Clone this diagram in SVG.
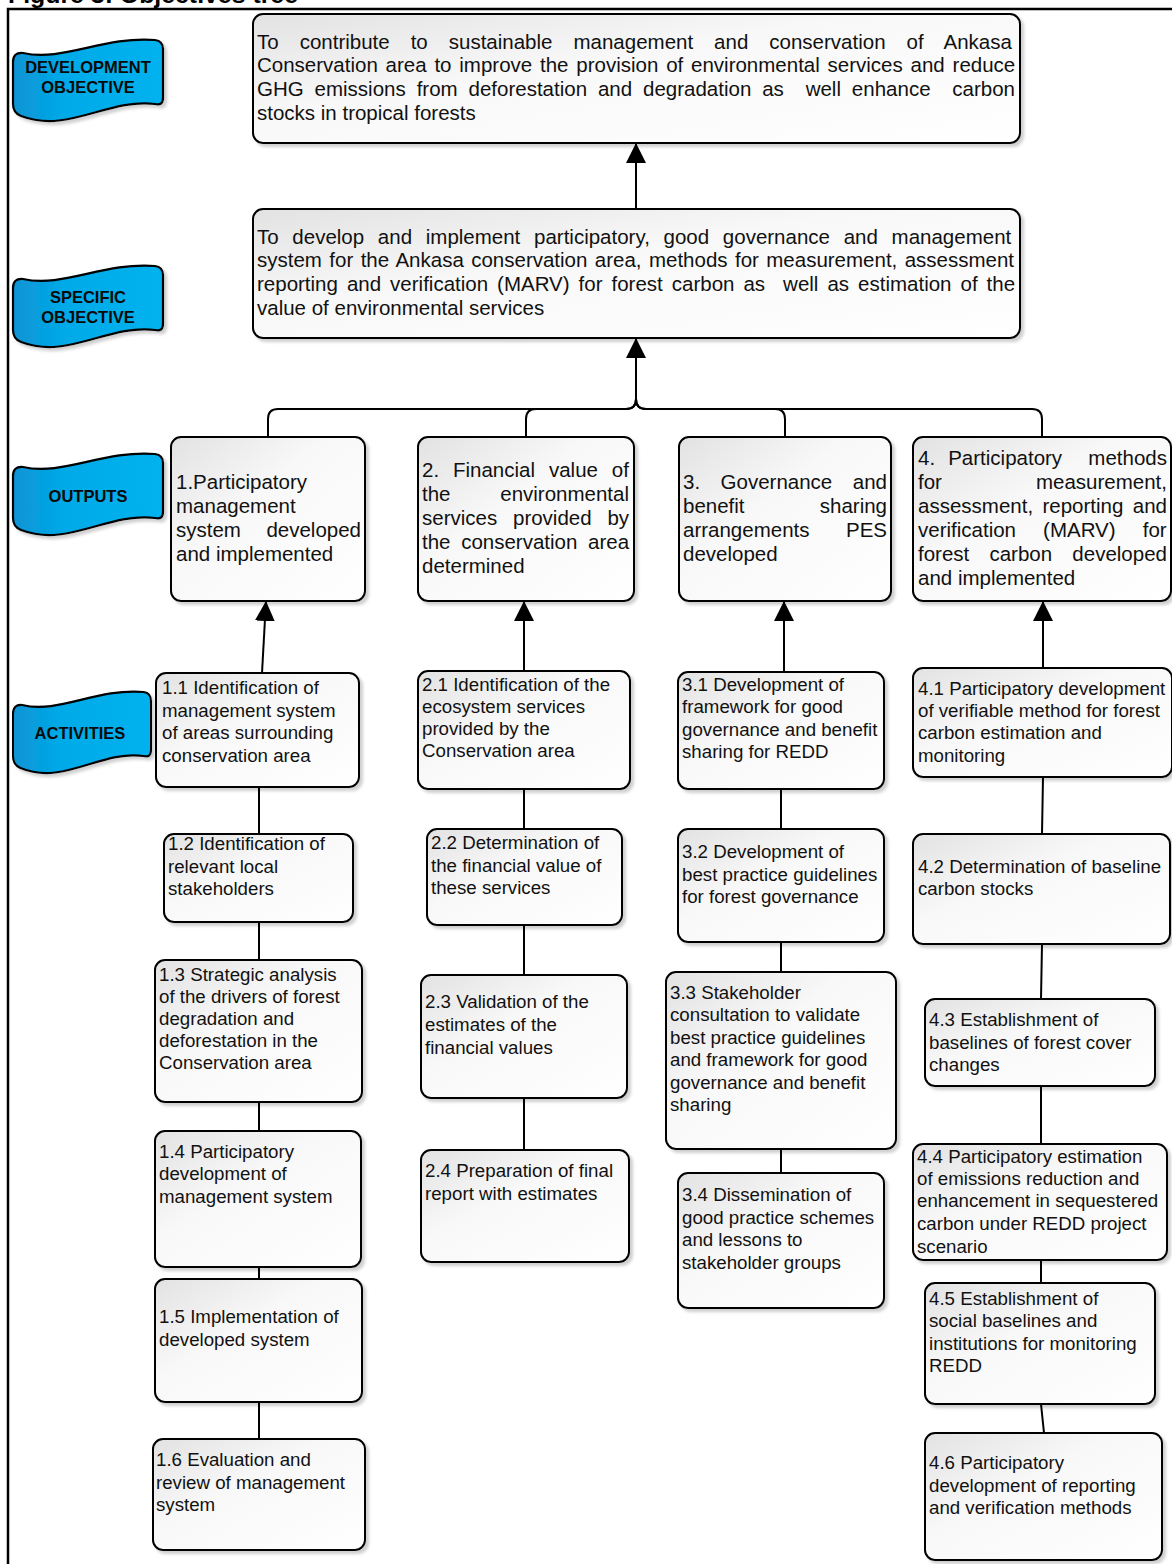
<svg xmlns="http://www.w3.org/2000/svg" width="1172" height="1564" viewBox="0 0 1172 1564">
<defs>
<style>
.t{font-family:"Liberation Sans",Arial,sans-serif;font-size:20.5px;fill:#111}
.a{font-family:"Liberation Sans",Arial,sans-serif;font-size:18.7px;fill:#111}
.e{text-anchor:end}
.lbl{font-family:"Liberation Sans",Arial,sans-serif;font-size:16.5px;font-weight:bold;fill:#0a0a0a;text-anchor:middle}
.box{fill:url(#bg);stroke:#000;stroke-width:2;filter:url(#sh)}
.ban{fill:url(#blue);stroke:#000;stroke-width:2.2;filter:url(#sh);stroke-linejoin:round}
.con{stroke:#000;stroke-width:2;fill:none}
.frame{stroke:#000;stroke-width:2.5;fill:none}
</style>
<linearGradient id="bg" x1="0" y1="0" x2="1" y2="1">
<stop offset="0" stop-color="#e2e2e2"/>
<stop offset="0.4" stop-color="#f8f8f8"/>
<stop offset="1" stop-color="#ffffff"/>
</linearGradient>
<linearGradient id="blue" x1="0" y1="0" x2="1" y2="0">
<stop offset="0" stop-color="#0a93d4"/>
<stop offset="0.35" stop-color="#03aae8"/>
<stop offset="1" stop-color="#00b2ef"/>
</linearGradient>
<filter id="sh" x="-10%" y="-10%" width="125%" height="125%">
<feDropShadow dx="3" dy="3" stdDeviation="1.5" flood-color="#888" flood-opacity="0.4"/>
</filter>
<marker id="ah" viewBox="0 0 20 20" markerWidth="20" markerHeight="20" refX="20" refY="10" orient="auto" markerUnits="userSpaceOnUse">
<path d="M0,0 L20,10 L0,20 Z" fill="#000"/>
</marker>
<path id="banner" d="M0,22 Q0,12 10,13 C50,22 90,-4 142,0 Q150,1 150,9 L150,58 Q150,66 142,64 C95,58 55,94 8,76 Q0,73 0,64 Z"/>
</defs>

<text x="8" y="3" font-family="Liberation Sans,Arial,sans-serif" font-size="24" font-weight="bold" textLength="290" lengthAdjust="spacingAndGlyphs">Figure 3: Objectives tree</text>
<path class="frame" d="M8,1564 V9 H1172"/>

<g id="label-development">
<use href="#banner" class="ban" transform="translate(13,40)"/>
<text class="lbl" x="88" y="73">DEVELOPMENT</text>
<text class="lbl" x="88" y="93">OBJECTIVE</text>
</g>
<g id="label-specific">
<use href="#banner" class="ban" transform="translate(13,266)"/>
<text class="lbl" x="88" y="303">SPECIFIC</text>
<text class="lbl" x="88" y="323">OBJECTIVE</text>
</g>
<g id="label-outputs">
<use href="#banner" class="ban" transform="translate(13,454)"/>
<text class="lbl" x="88" y="502">OUTPUTS</text>
</g>
<g id="label-activities">
<use href="#banner" class="ban" transform="translate(13,692) scale(0.92,1)"/>
<text class="lbl" x="80" y="739">ACTIVITIES</text>
</g>

<g id="dev-objective">
<rect class="box" x="253" y="14" width="767" height="129" rx="10"/>
<text class="t" x="257" y="48.5" style="word-spacing:15.3px">To contribute to sustainable management and conservation of Ankasa</text>
<text class="t" x="257" y="71.5" style="word-spacing:2.1px">Conservation area to improve the provision of environmental services and reduce</text>
<text class="t" x="257" y="95.5" xml:space="preserve" style="word-spacing:5.2px">GHG emissions from deforestation and degradation as  well enhance  carbon</text>
<text class="t" x="257" y="119.5">stocks in tropical forests</text>
</g>

<g id="spec-objective">
<rect class="box" x="253" y="209" width="767" height="129" rx="10"/>
<text class="t" x="257" y="243.5" style="word-spacing:8px">To develop and implement participatory, good governance and management</text>
<text class="t" x="257" y="266.5" style="word-spacing:1.7px">system for the Ankasa conservation area, methods for measurement, assessment</text>
<text class="t" x="257" y="290.5" xml:space="preserve" style="word-spacing:3.3px">reporting and verification (MARV) for forest carbon as  well as estimation of the</text>
<text class="t" x="257" y="314.5">value of environmental services</text>
</g>

<g id="output-1">
<rect class="box" x="171" y="437" width="194" height="164" rx="10"/>
<text class="t" x="176" y="488.5">1.Participatory</text>
<text class="t" x="176" y="512.5">management</text>
<text class="t" x="176" y="536.5">system</text>
<text class="t e" x="361" y="536.5">developed</text>
<text class="t" x="176" y="560.5">and implemented</text>
</g>
<g id="output-2">
<rect class="box" x="418" y="437" width="216" height="164" rx="10"/>
<text class="t" x="422" y="476.5" style="word-spacing:8.2px">2. Financial value of</text>
<text class="t" x="422" y="500.5">the</text>
<text class="t e" x="629" y="500.5">environmental</text>
<text class="t" x="422" y="524.5" style="word-spacing:10.1px">services provided by</text>
<text class="t" x="422" y="548.5" style="word-spacing:4.95px">the conservation area</text>
<text class="t" x="422" y="572.5">determined</text>
</g>
<g id="output-3">
<rect class="box" x="679" y="437" width="212" height="164" rx="10"/>
<text class="t" x="683" y="488.5" style="word-spacing:14.8px">3. Governance and</text>
<text class="t" x="683" y="512.5">benefit</text>
<text class="t e" x="887" y="512.5">sharing</text>
<text class="t" x="683" y="536.5">arrangements</text>
<text class="t e" x="887" y="536.5">PES</text>
<text class="t" x="683" y="560.5">developed</text>
</g>
<g id="output-4">
<rect class="box" x="913" y="437" width="258" height="164" rx="10"/>
<text class="t" x="918" y="464.5" xml:space="preserve" style="word-spacing:7.4px">4. Participatory  methods</text>
<text class="t" x="918" y="488.5">for</text>
<text class="t e" x="1167" y="488.5">measurement,</text>
<text class="t" x="918" y="512.5" style="word-spacing:3.7px">assessment, reporting and</text>
<text class="t" x="918" y="536.5" style="word-spacing:21.4px">verification (MARV) for</text>
<text class="t" x="918" y="560.5" style="word-spacing:14.5px">forest carbon developed</text>
<text class="t" x="918" y="584.5">and implemented</text>
</g>

<g id="act-1-1">
<rect class="box" x="156" y="673" width="203" height="114" rx="10"/>
<text class="a" x="162" y="694">1.1 Identification of</text>
<text class="a" x="162" y="717">management system</text>
<text class="a" x="162" y="739">of areas surrounding</text>
<text class="a" x="162" y="762">conservation area</text>
</g>
<g id="act-1-2">
<rect class="box" x="164" y="834" width="189" height="88" rx="10"/>
<text class="a" x="168" y="850">1.2 Identification of</text>
<text class="a" x="168" y="873">relevant local</text>
<text class="a" x="168" y="895">stakeholders</text>
</g>
<g id="act-1-3">
<rect class="box" x="155" y="960" width="207" height="142" rx="10"/>
<text class="a" x="159" y="981">1.3 Strategic analysis</text>
<text class="a" x="159" y="1003">of the drivers of forest</text>
<text class="a" x="159" y="1025">degradation and</text>
<text class="a" x="159" y="1047">deforestation in the</text>
<text class="a" x="159" y="1069">Conservation area</text>
</g>
<g id="act-1-4">
<rect class="box" x="155" y="1131" width="206" height="136" rx="10"/>
<text class="a" x="159" y="1158">1.4 Participatory</text>
<text class="a" x="159" y="1180">development of</text>
<text class="a" x="159" y="1203">management system</text>
</g>
<g id="act-1-5">
<rect class="box" x="155" y="1279" width="207" height="123" rx="10"/>
<text class="a" x="159" y="1323">1.5 Implementation of</text>
<text class="a" x="159" y="1346">developed system</text>
</g>
<g id="act-1-6">
<rect class="box" x="153" y="1439" width="212" height="111" rx="10"/>
<text class="a" x="156" y="1466">1.6 Evaluation and</text>
<text class="a" x="156" y="1489">review of management</text>
<text class="a" x="156" y="1511">system</text>
</g>

<g id="act-2-1">
<rect class="box" x="418" y="671" width="212" height="118" rx="10"/>
<text class="a" x="422" y="691">2.1 Identification of the</text>
<text class="a" x="422" y="713">ecosystem services</text>
<text class="a" x="422" y="735">provided by the</text>
<text class="a" x="422" y="757">Conservation area</text>
</g>
<g id="act-2-2">
<rect class="box" x="427" y="829" width="195" height="96" rx="10"/>
<text class="a" x="431" y="849">2.2 Determination of</text>
<text class="a" x="431" y="872">the financial value of</text>
<text class="a" x="431" y="894">these services</text>
</g>
<g id="act-2-3">
<rect class="box" x="421" y="975" width="206" height="123" rx="10"/>
<text class="a" x="425" y="1008">2.3 Validation of the</text>
<text class="a" x="425" y="1031">estimates of the</text>
<text class="a" x="425" y="1054">financial values</text>
</g>
<g id="act-2-4">
<rect class="box" x="421" y="1150" width="208" height="112" rx="10"/>
<text class="a" x="425" y="1177">2.4 Preparation of final</text>
<text class="a" x="425" y="1200">report with estimates</text>
</g>

<g id="act-3-1">
<rect class="box" x="678" y="672" width="206" height="117" rx="10"/>
<text class="a" x="682" y="691">3.1 Development of</text>
<text class="a" x="682" y="713">framework for good</text>
<text class="a" x="682" y="736">governance and benefit</text>
<text class="a" x="682" y="758">sharing for REDD</text>
</g>
<g id="act-3-2">
<rect class="box" x="678" y="829" width="206" height="113" rx="10"/>
<text class="a" x="682" y="858">3.2 Development of</text>
<text class="a" x="682" y="881">best practice guidelines</text>
<text class="a" x="682" y="903">for forest governance</text>
</g>
<g id="act-3-3">
<rect class="box" x="666" y="972" width="230" height="177" rx="10"/>
<text class="a" x="670" y="999">3.3 Stakeholder</text>
<text class="a" x="670" y="1021">consultation to validate</text>
<text class="a" x="670" y="1044">best practice guidelines</text>
<text class="a" x="670" y="1066">and framework for good</text>
<text class="a" x="670" y="1089">governance and benefit</text>
<text class="a" x="670" y="1111">sharing</text>
</g>
<g id="act-3-4">
<rect class="box" x="678" y="1173" width="206" height="135" rx="10"/>
<text class="a" x="682" y="1201">3.4 Dissemination of</text>
<text class="a" x="682" y="1224">good practice schemes</text>
<text class="a" x="682" y="1246">and lessons to</text>
<text class="a" x="682" y="1269">stakeholder groups</text>
</g>

<g id="act-4-1">
<rect class="box" x="913" y="668" width="259" height="109" rx="10"/>
<text class="a" x="918" y="695">4.1 Participatory development</text>
<text class="a" x="918" y="717">of verifiable method for forest</text>
<text class="a" x="918" y="739">carbon estimation and</text>
<text class="a" x="918" y="762">monitoring</text>
</g>
<g id="act-4-2">
<rect class="box" x="913" y="834" width="257" height="110" rx="10"/>
<text class="a" x="918" y="873">4.2 Determination of baseline</text>
<text class="a" x="918" y="895">carbon stocks</text>
</g>
<g id="act-4-3">
<rect class="box" x="925" y="999" width="230" height="87" rx="10"/>
<text class="a" x="929" y="1026">4.3 Establishment of</text>
<text class="a" x="929" y="1049">baselines of forest cover</text>
<text class="a" x="929" y="1071">changes</text>
</g>
<g id="act-4-4">
<rect class="box" x="913" y="1144" width="254" height="116" rx="10"/>
<text class="a" x="917" y="1163">4.4 Participatory estimation</text>
<text class="a" x="917" y="1185">of emissions reduction and</text>
<text class="a" x="917" y="1207">enhancement in sequestered</text>
<text class="a" x="917" y="1230">carbon under REDD project</text>
<text class="a" x="917" y="1253">scenario</text>
</g>
<g id="act-4-5">
<rect class="box" x="925" y="1283" width="230" height="121" rx="10"/>
<text class="a" x="929" y="1305">4.5 Establishment of</text>
<text class="a" x="929" y="1327">social baselines and</text>
<text class="a" x="929" y="1350">institutions for monitoring</text>
<text class="a" x="929" y="1372">REDD</text>
</g>
<g id="act-4-6">
<rect class="box" x="925" y="1433" width="237" height="127" rx="10"/>
<text class="a" x="929" y="1469">4.6 Participatory</text>
<text class="a" x="929" y="1492">development of reporting</text>
<text class="a" x="929" y="1514">and verification methods</text>
</g>

<g id="connectors">
<path class="con" d="M636,209 V143" marker-end="url(#ah)"/>
<path class="con" d="M526,437 V419 Q526,409 536,409 H626 Q636,409 636,399"/>
<path class="con" d="M785,437 V419 Q785,409 775,409 H646 Q636,409 636,399"/>
<path class="con" d="M1042,437 V419 Q1042,409 1032,409 H646 Q636,409 636,399"/>
<path class="con" d="M268,437 V419 Q268,409 278,409 H626 Q636,409 636,399 V338" marker-end="url(#ah)"/>
<path class="con" d="M262,673 L266,601" marker-end="url(#ah)"/>
<path class="con" d="M524,671 V601" marker-end="url(#ah)"/>
<path class="con" d="M784,672 V601" marker-end="url(#ah)"/>
<path class="con" d="M1043,668 V601" marker-end="url(#ah)"/>
<path class="con" d="M259,787 V834 M259,922 V960 M259,1102 V1131 M259,1267 V1279 M259,1402 V1439"/>
<path class="con" d="M524,789 V829 M524,925 V975 M524,1098 V1150"/>
<path class="con" d="M781,789 V829 M781,942 V972 M781,1149 V1173"/>
<path class="con" d="M1043,777 L1042,834 M1042,944 L1041,999 M1041,1086 V1144 M1041,1260 V1283 M1041,1404 L1044,1433"/>
</g>
</svg>
